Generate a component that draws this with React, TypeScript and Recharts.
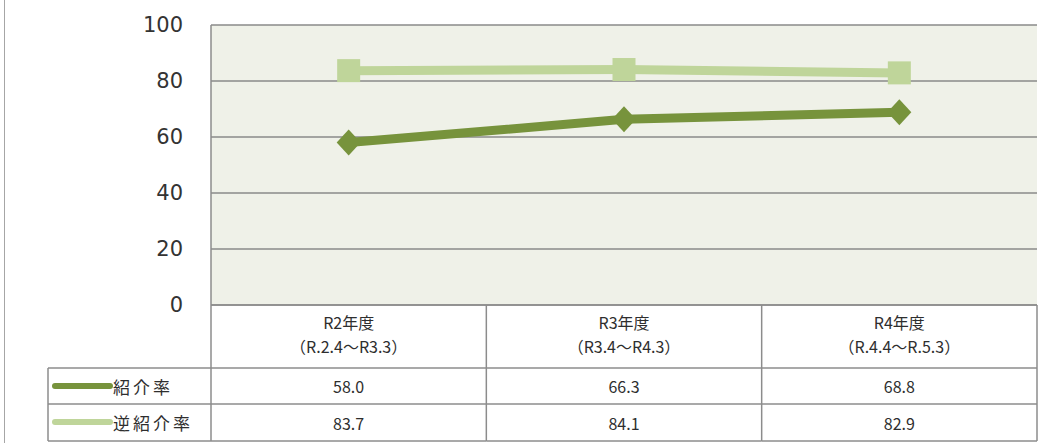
import React from "react"
import { ComposedChart, Line, XAxis, YAxis, CartesianGrid } from "recharts"

const categories = ["R2年度", "R3年度", "R4年度"]
const periods = ["（R.2.4～R3.3）", "（R3.4～R4.3）", "（R.4.4～R.5.3）"]
const referralRate = [58.0, 66.3, 68.8]
const reverseReferralRate = [83.7, 84.1, 82.9]
const seriesNames = ["紹介率", "逆紹介率"]
const yTicks = [0, 20, 40, 60, 80, 100]

const W = 1043
const H = 443
const PLOT_LEFT = 211
const PLOT_RIGHT = 1037
const PLOT_TOP = 25
const PLOT_BOTTOM = 305
const ROW1 = 368
const ROW2 = 404
const TABLE_BOTTOM = 441
const LEGEND_LEFT = 48
const Y_AXIS_W = 60
const X_AXIS_H = TABLE_BOTTOM - PLOT_BOTTOM
const BAND = (PLOT_RIGHT - PLOT_LEFT) / categories.length

const DARK = "#77933c"
const LIGHT = "#bfd59a"
const BORDER = "#8c8c8c"
const TEXT = "#2e2e2e"
const TABLE_FONT = "'Noto Sans CJK JP', sans-serif"

const data = categories.map((name, i) => ({
  name,
  period: periods[i],
  referral: referralRate[i],
  reverse: reverseReferralRate[i],
}))

const fmt = (v: number) => v.toFixed(1)

const Diamond = (p: any) => {
  const { cx, cy } = p
  if (cx == null || cy == null) return <g />
  return (
    <polygon
      points={`${cx},${cy - 13} ${cx + 12},${cy} ${cx},${cy + 13} ${cx - 12},${cy}`}
      fill={DARK}
    />
  )
}

const Square = (p: any) => {
  const { cx, cy } = p
  if (cx == null || cy == null) return <g />
  return <rect x={cx - 11.5} y={cy - 11.5} width={23} height={23} fill={LIGHT} />
}

// x-axis ticks double as the data table underneath the plot
const TableTick = (props: any) => {
  const { x, payload } = props
  const i = categories.indexOf(payload.value)
  const left = x - BAND / 2
  const right = x + BAND / 2
  const line = { stroke: BORDER, strokeWidth: 1.5 }
  const txt = { fontFamily: TABLE_FONT, fontSize: 16, fill: TEXT, textAnchor: "middle" as const, dominantBaseline: "central" as const }
  return (
    <g>
      <line x1={right} y1={PLOT_BOTTOM} x2={right} y2={TABLE_BOTTOM} {...line} />
      {i === 0 && <line x1={left} y1={PLOT_BOTTOM} x2={left} y2={TABLE_BOTTOM} {...line} />}
      <line x1={left} y1={ROW1} x2={right} y2={ROW1} {...line} />
      <line x1={left} y1={ROW2} x2={right} y2={ROW2} {...line} />
      <line x1={left} y1={TABLE_BOTTOM} x2={right} y2={TABLE_BOTTOM} {...line} />
      <text x={x} y={322} {...txt}>{payload.value}</text>
      <text x={x} y={346} {...txt}>{periods[i]}</text>
      <text x={x} y={386} {...txt}>{fmt(referralRate[i])}</text>
      <text x={x} y={423} {...txt}>{fmt(reverseReferralRate[i])}</text>
      {i === 0 && (
        <g>
          <line x1={LEGEND_LEFT} y1={ROW1} x2={left} y2={ROW1} {...line} />
          <line x1={LEGEND_LEFT} y1={ROW2} x2={left} y2={ROW2} {...line} />
          <line x1={LEGEND_LEFT} y1={TABLE_BOTTOM} x2={left} y2={TABLE_BOTTOM} {...line} />
          <line x1={LEGEND_LEFT} y1={ROW1} x2={LEGEND_LEFT} y2={TABLE_BOTTOM} {...line} />
          <line x1={55} y1={386} x2={110} y2={386} stroke={DARK} strokeWidth={6} strokeLinecap="round" />
          <line x1={55} y1={422} x2={110} y2={422} stroke={LIGHT} strokeWidth={6} strokeLinecap="round" />
          <text x={113} y={386} fontFamily={TABLE_FONT} fontSize={17} letterSpacing={3} fill={TEXT} dominantBaseline="central">{seriesNames[0]}</text>
          <text x={113} y={422} fontFamily={TABLE_FONT} fontSize={17} letterSpacing={3} fill={TEXT} dominantBaseline="central">{seriesNames[1]}</text>
        </g>
      )}
    </g>
  )
}

export default function App() {
  return (
    <div style={{ position: "fixed", left: 0, top: 0, width: W, height: H, background: "#fff" }}>
      <div style={{ position: "absolute", left: 4, top: 0, width: 1, height: H, background: "#a6a6a6" }} />
      <ComposedChart
        width={W}
        height={H}
        data={data}
        margin={{ top: PLOT_TOP, right: W - PLOT_RIGHT, left: PLOT_LEFT - Y_AXIS_W, bottom: H - PLOT_BOTTOM - X_AXIS_H }}
      >
        <CartesianGrid vertical={false} fill="#eff1e8" stroke="#8a8a8a" strokeWidth={1.5} />
        <XAxis
          dataKey="name"
          height={X_AXIS_H}
          interval={0}
          padding={{ left: BAND / 2, right: BAND / 2 }}
          tickLine={false}
          tickSize={0}
          tickMargin={0}
          axisLine={{ stroke: BORDER, strokeWidth: 1.5 }}
          tick={(p: any) => <TableTick {...p} />}
        />
        <YAxis
          domain={[0, 100]}
          ticks={yTicks}
          width={Y_AXIS_W}
          tickLine={false}
          tickMargin={22}
          axisLine={{ stroke: BORDER, strokeWidth: 1.5 }}
          tick={{ fontSize: 21, fill: "#333333", fontFamily: "'DejaVu Sans', sans-serif" }}
        />
        <Line
          type="linear"
          dataKey="reverse"
          name={seriesNames[1]}
          stroke={LIGHT}
          strokeWidth={9}
          dot={(p: any) => <Square key={`s${p.index}`} {...p} />}
          activeDot={false}
          isAnimationActive={false}
        />
        <Line
          type="linear"
          dataKey="referral"
          name={seriesNames[0]}
          stroke={DARK}
          strokeWidth={9}
          dot={(p: any) => <Diamond key={`d${p.index}`} {...p} />}
          activeDot={false}
          isAnimationActive={false}
        />
      </ComposedChart>
    </div>
  )
}
